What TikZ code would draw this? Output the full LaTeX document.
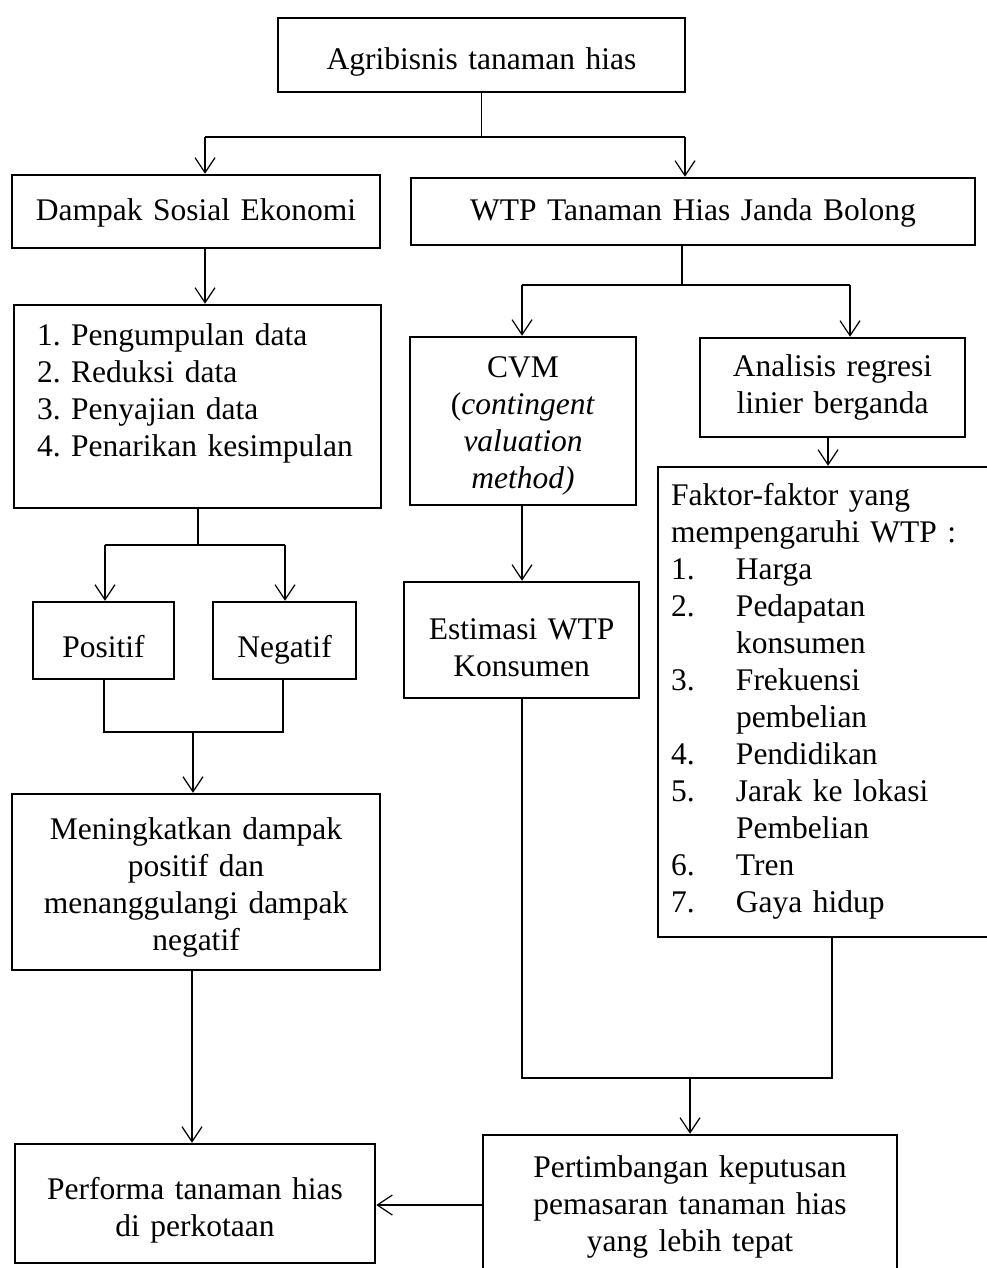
\documentclass[tikz,border=0pt]{standalone}
\usepackage{fontspec}
\setmainfont{Liberation Serif}
\usetikzlibrary{arrows.meta}
\newcommand\myfs{\fontsize{31.5pt}{37pt}\selectfont\frenchspacing\hyphenpenalty=10000 }
\newcommand\tp[1]{\rule{0pt}{#1pt}}
\begin{document}
\begin{tikzpicture}[x=1pt,y=-1pt,
  box/.style={draw, line width=2.5pt, inner sep=0pt, align=center, font=\myfs},
  conn/.style={line width=1.2pt},
  arr/.style={conn, -{Straight Barb[length=15pt,width=20pt]}}]
\clip (0,0) rectangle (987,1268);
% nodes
\node[box, text width=407pt, minimum height=74pt] (agri) at (481.5,55) {\tp{40}Agribisnis tanaman hias\strut};
\node[box, text width=368pt, minimum height=73pt] (dampak) at (196,211.5) {\tp{30}Dampak Sosial Ekonomi\strut};
\node[box, text width=564pt, minimum height=67pt] (wtp) at (693,211.5) {\tp{30}WTP Tanaman Hias Janda Bolong\strut};
\node[box, align=left, text width=321pt, inner xsep=23pt, minimum height=203pt] (list) at (197.5,406.5)
  {\tp{26}1. Pengumpulan data\\ 2. Reduksi data\\ 3. Penyajian data\\ 4. Penarikan kesimpulan\rule[-37pt]{0pt}{37pt}};
\node[box, text width=226pt, minimum height=168pt] (cvm) at (523,421)
  {\tp{36}CVM\\ (\textit{contingent}\\ \textit{valuation}\\ \textit{method)}\strut};
\node[box, text width=265pt, minimum height=99pt] (reg) at (832.5,387.5) {\tp{26}Analisis regresi\\ linier berganda\strut};
\node[box, align=left, text width=314pt, inner xsep=13pt, minimum height=470pt] (faktor) at (828,702)
  {\tp{26}Faktor-faktor yang\\
   mempengaruhi WTP :\\
   \makebox[65pt][l]{1.}Harga\\
   \makebox[65pt][l]{2.}Pedapatan\\
   \hspace*{65pt}konsumen\\
   \makebox[65pt][l]{3.}Frekuensi\\
   \hspace*{65pt}pembelian\\
   \makebox[65pt][l]{4.}Pendidikan\\
   \makebox[65pt][l]{5.}Jarak ke lokasi\\
   \hspace*{65pt}Pembelian\\
   \makebox[65pt][l]{6.}Tren\\
   \makebox[65pt][l]{7.}Gaya hidup\strut};
\node[box, text width=141pt, minimum height=77pt] (pos) at (103.5,640.5) {\tp{46}Positif\strut};
\node[box, text width=143pt, minimum height=77pt] (neg) at (284.5,640.5) {\tp{46}Negatif\strut};
\node[box, text width=235pt, minimum height=116pt] (est) at (521.5,640) {\tp{48}Estimasi WTP\\ Konsumen\strut};
\node[box, text width=368pt, minimum height=176pt] (meni) at (196,882)
  {\tp{38}Meningkatkan dampak\\ positif dan\\ menanggulangi dampak\\ negatif\strut};
\node[box, text width=360pt, minimum height=119pt] (perf) at (195,1203.5) {\tp{40}Performa tanaman hias\\ di perkotaan\strut};
\node[box, text width=414pt, minimum height=140pt] (pert) at (690,1205)
  {\tp{30}Pertimbangan keputusan\\ pemasaran tanaman hias\\ yang lebih tepat\strut};
% connectors
\coordinate (a1) at (481.5,137);
\coordinate (a2) at (205,137);
\coordinate (a3) at (685,137);
\draw[conn] (agri.south) -- (a1);
\draw[conn] (a2) -- (a3);
\draw[arr] (a2) -- (a2 |- dampak.north);
\draw[arr] (a3) -- (a3 |- wtp.north);
\draw[arr] (a2 |- dampak.south) -- (a2 |- list.north);
\coordinate (b1) at (682,285);
\coordinate (b2) at (522,285);
\coordinate (b3) at (850,285);
\draw[conn] (b1 |- wtp.south) -- (b1);
\draw[conn] (b2) -- (b3);
\draw[arr] (b2) -- (b2 |- cvm.north);
\draw[arr] (b3) -- (b3 |- reg.north);
\coordinate (c1) at (198,545);
\coordinate (c2) at (105,545);
\coordinate (c3) at (285,545);
\draw[conn] (c1 |- list.south) -- (c1);
\draw[conn] (c2) -- (c3);
\draw[arr] (c2) -- (c2 |- pos.north);
\draw[arr] (c3) -- (c3 |- neg.north);
\coordinate (d1) at (104,732);
\coordinate (d2) at (283,732);
\coordinate (d3) at (193,732);
\draw[conn] (d1 |- pos.south) -- (d1) -- (d2) -- (d2 |- neg.south);
\draw[arr] (d3) -- (d3 |- meni.north);
\coordinate (e1) at (828,452);
\draw[arr] (e1 |- reg.south) -- (e1 |- faktor.north);
\coordinate (f1) at (522,540);
\draw[arr] (f1 |- cvm.south) -- (f1 |- est.north);
\coordinate (g1) at (522,1078);
\coordinate (g2) at (832,1078);
\coordinate (g3) at (690,1078);
\draw[conn] (g1 |- est.south) -- (g1) -- (g2) -- (g2 |- faktor.south);
\draw[arr] (g3) -- (g3 |- pert.north);
\coordinate (h1) at (192,1050);
\draw[arr] (h1 |- meni.south) -- (h1 |- perf.north);
\draw[arr] (pert.west) -- (pert.west -| perf.east);
\end{tikzpicture}
\end{document}
